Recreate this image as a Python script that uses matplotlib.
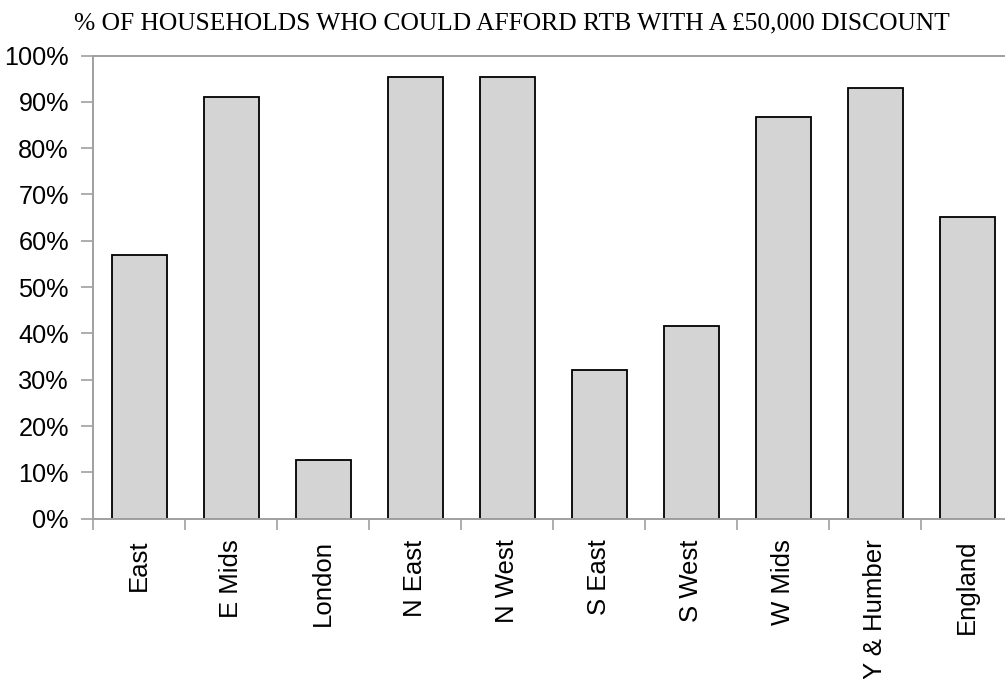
import matplotlib
matplotlib.use("Agg")
import matplotlib.pyplot as plt
import numpy as np

regions = ["East", "E Mids", "London", "N East", "N West", "S East", "S West",
           "W Mids", "Y & Humber", "England"]
afford_pct = [56.9, 91.0, 12.7, 95.4, 95.4, 32.1, 41.6, 86.8, 93.0, 65.2]
yticks = list(range(0, 101, 10))

fig = plt.figure(figsize=(10.05, 6.79), dpi=100)
ax = fig.add_axes([93.3 / 1005, 1 - 518.7 / 679, 920 / 1005, (518.7 - 55.5) / 679])

x = np.arange(len(regions))
ax.bar(x, afford_pct, width=0.6, color="#d4d4d4", edgecolor="black", linewidth=1.3)

ax.set_xlim(-0.5, len(regions) - 0.5)
ax.set_ylim(0, 100)
ax.set_yticks(yticks)
ax.set_yticklabels([f"{t}%" for t in yticks], fontsize=18.2, family="Liberation Sans")
ax.set_xticks(x)
ax.set_xticklabels(regions, rotation=90, fontsize=18.5, family="Liberation Sans")
ax.tick_params(axis="x", length=0, pad=15)
ax.tick_params(axis="y", length=9, width=1.2, color="#a0a0a0", pad=8.5)
# category boundary ticks
ax.set_xticks(np.arange(-0.5, len(regions), 1.0), minor=True)
ax.tick_params(axis="x", which="minor", length=8, width=1.2, color="#a0a0a0")

for side in ["left", "bottom", "top"]:
    ax.spines[side].set_color("#a0a0a0")
    ax.spines[side].set_linewidth(1.4)
ax.spines["right"].set_visible(False)

fig.text(0.509, 1 - 29 / 679, "% OF HOUSEHOLDS WHO COULD AFFORD RTB WITH A £50,000 DISCOUNT",
         ha="center", va="baseline", fontsize=18.4, family="Liberation Serif")

fig.savefig("out.png", dpi=100)
